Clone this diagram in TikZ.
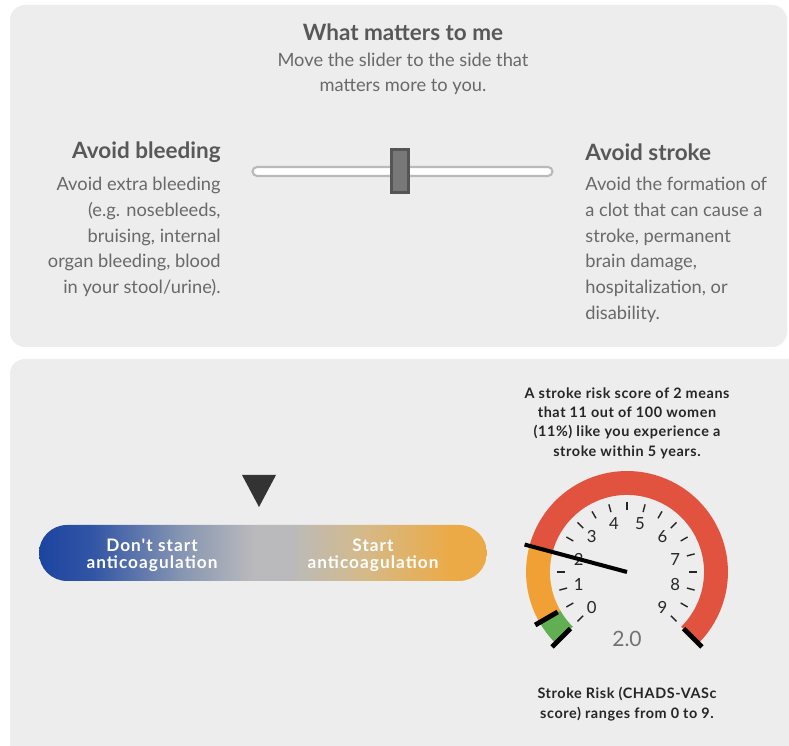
\documentclass[tikz,border=0pt]{standalone}
\usepackage{fontspec}
\setmainfont{Lato}
\newfontfamily\spacedfont[LetterSpace=4]{Lato}
\newfontfamily\widefont[LetterSpace=6]{Lato}
\usetikzlibrary{positioning}
\definecolor{panel}{RGB}{237,237,237}
\definecolor{headgray}{RGB}{88,88,88}
\definecolor{bodygray}{RGB}{105,105,105}
\definecolor{trackgray}{RGB}{185,185,185}
\definecolor{thumbgray}{RGB}{120,120,120}
\definecolor{thumbedge}{RGB}{85,85,85}
\definecolor{riskred}{RGB}{226,83,63}
\definecolor{riskorange}{RGB}{240,160,52}
\definecolor{riskgreen}{RGB}{98,174,82}
\definecolor{barblue}{RGB}{28,68,160}
\definecolor{barblue2}{RGB}{50,85,165}
\definecolor{barsteel}{RGB}{135,150,178}
\definecolor{barmid}{RGB}{186,186,188}
\definecolor{bartan}{RGB}{212,186,138}
\definecolor{barorange}{RGB}{236,170,70}
\pgfdeclarehorizontalshading{decision}{100bp}{color(0bp)=(barblue); color(25bp)=(barblue);
    color(31bp)=(barblue2); color(41bp)=(barsteel); color(49bp)=(barmid); color(53bp)=(barmid);
    color(61bp)=(bartan); color(71bp)=(barorange); color(100bp)=(barorange)}

\begin{document}
\begin{tikzpicture}[x=0.02cm, y=0.02cm,
    card/.style={fill=panel, rounded corners=0.3cm},
    heading/.style={font=\fontsize{12.8}{15}\selectfont\bfseries, text=headgray, inner sep=0pt},
    body/.style={font=\fontsize{10.4}{14.6}\selectfont, text=bodygray, inner sep=0pt},
    caption/.style={font=\fontsize{8.2}{11}\selectfont\spacedfont\bfseries, text=black!85, align=center},
    barlabel/.style={font=\fontsize{9.8}{9.8}\selectfont\widefont\bfseries, text=white, align=center},
    ticklabel/.style={font=\fontsize{9.5}{10}\selectfont, text=black!85, inner sep=0pt},
    tickmark/.style={line width=0.8pt, black!85},
    endmark/.style={line width=2.8pt, black},
    riskarc/.style={line width=13.6pt}]

    \useasboundingbox (0,0) rectangle (789,746);
    \clip (0,0) rectangle (789,746);
    \fill[white] (0,0) rectangle (789,746);

    % Cards
    \fill[card] (10,399) rectangle (787,741);
    \fill[card] (10,-20) rectangle (805,387);

    % What matters
    \node[font=\fontsize{12.8}{15}\selectfont\bfseries, text=headgray] (title) at (403,714) {What matters to me};
    \node[body, align=center] (hint) at (403,672) {Move the slider to the side that\\matters more to you.};

    \node[heading, anchor=east] (bleedhead) at (221,594) {Avoid bleeding};
    \node[body, align=right, anchor=north east] (bleedtext) at (221,569)
        {Avoid extra bleeding\\(e.g. nosebleeds,\\bruising, internal\\organ bleeding, blood\\in your stool/urine).};
    \node[heading, anchor=west] (strokehead) at (585,594) {Avoid stroke};
    \node[body, align=left, anchor=north west] (stroketext) at (585,569)
        {Avoid the formation of\\a clot that can cause a\\stroke, permanent\\brain damage,\\hospitalization, or\\disability.};

    % Slider
    \node[draw=trackgray, line width=1.2pt, fill=white, rounded corners=0.09cm,
          minimum width=6.0cm, minimum height=0.18cm, inner sep=0pt] (track) at (402.5,574.5) {};
    \node[draw=thumbedge, line width=1.6pt, fill=thumbgray,
          minimum width=0.34cm, minimum height=0.86cm, inner sep=0pt] (thumb) at (400,575) {};

    % Decision bar
    \node[rounded corners=0.56cm, shading=decision,
          minimum width=8.96cm, minimum height=1.12cm, inner sep=0pt] (bar) at (263,193) {};
    \node[barlabel] (nostart) at (152,191) {Don't start\\anticoagulation};
    \node[barlabel] (start) at (373,191) {Start\\anticoagulation};
    \fill[black!80] (242,271) -- (276,271) -- (259,239) -- cycle;

    % Gauge
    \coordinate (gc) at (627,174);
    \node[caption] (riskinfo) at (627,323)
        {A stroke risk score of 2 means\\that 11 out of 100 women\\(11\%) like you experience a\\stroke within 5 years.};

    \draw[riskarc, riskgreen] (gc) ++(225:89) arc[start angle=225, end angle=210, radius=89];
    \draw[riskarc, riskorange] (gc) ++(210:89) arc[start angle=210, end angle=165, radius=89];
    \draw[riskarc, riskred] (gc) ++(165:89) arc[start angle=165, end angle=-45, radius=89];

    \foreach \a in {-45,-30,...,225}
        \draw[tickmark] (gc) ++(\a:62) -- ++(\a:8);
    \foreach \n in {0,...,9} {
        \pgfmathsetmacro{\ang}{225-30*\n}
        \node[ticklabel] (s\n) at ([shift={(\ang:50)}]gc) {\n};
    }

    \foreach \a in {225,210,-45}
        \draw[endmark] (gc) ++(\a:80) -- ++(\a:26);

    \coordinate (tip) at ([shift={(165:106)}]gc);
    \draw[line width=2.3pt, black] (gc) -- (tip);

    \node[font=\fontsize{12}{13}\selectfont, text=black!55] (score) at (627,107) {2.0};
    \node[caption] (range) at (627,42) {Stroke Risk (CHADS-VASc\\score) ranges from 0 to 9.};
\end{tikzpicture}
\end{document}
